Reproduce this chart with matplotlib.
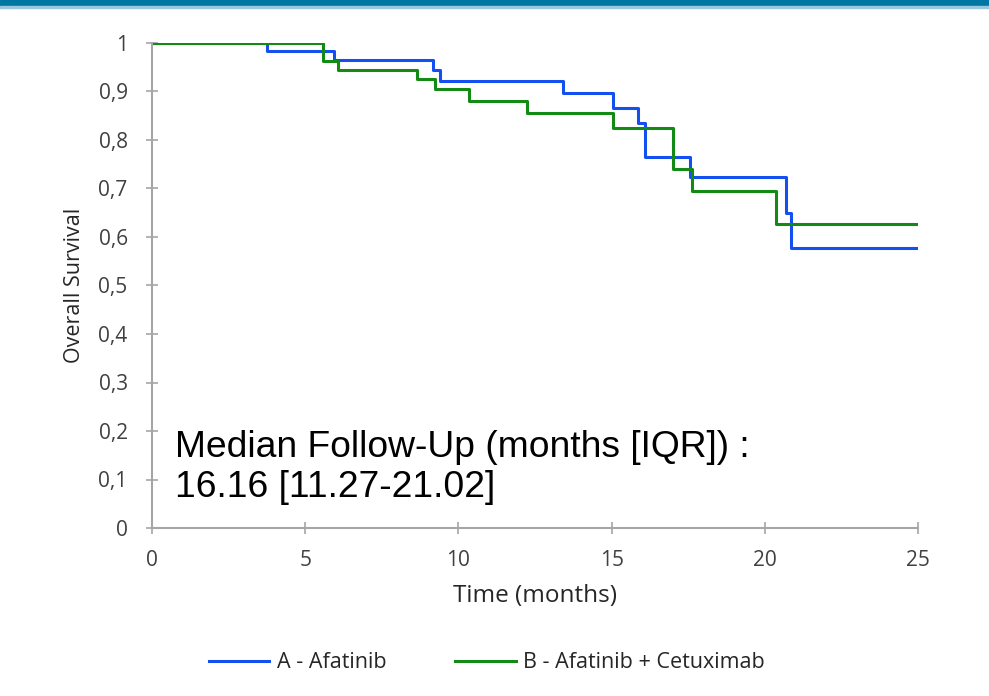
import numpy as np
import matplotlib.pyplot as plt
from matplotlib.patches import Rectangle
from matplotlib.ticker import FuncFormatter

# Kaplan-Meier steps (months, survival)
time_a = [0, 3.74, 5.95, 9.18, 9.40, 13.43, 15.06, 15.85, 16.09, 17.56, 20.69, 20.84, 25]
surv_a = [1.0, 0.983, 0.965, 0.944, 0.922, 0.896, 0.867, 0.836, 0.764, 0.723, 0.649, 0.577, 0.577]

time_b = [0, 5.59, 6.06, 8.64, 9.24, 10.35, 12.23, 15.06, 16.99, 17.63, 20.37, 25]
surv_b = [1.0, 0.963, 0.944, 0.925, 0.905, 0.881, 0.856, 0.824, 0.740, 0.695, 0.626, 0.626]

label_a = "A - Afatinib"
label_b = "B - Afatinib + Cetuximab"
note = "Median Follow-Up (months [IQR]) :\n16.16 [11.27-21.02]"

x_ticks = [0, 5, 10, 15, 20, 25]
y_ticks = np.arange(0, 11) / 10

plt.rcParams['font.family'] = ['Open Sans', 'DejaVu Sans']

fig = plt.figure(figsize=(9.89, 6.96), dpi=100)
fig.patches.append(Rectangle((0, 1 - 6 / 696), 1, 6 / 696, transform=fig.transFigure,
                             color='#0077A3', zorder=0))
fig.patches.append(Rectangle((0, 1 - 8 / 696), 1, 1.5 / 696, transform=fig.transFigure,
                             color='#9CC7DA', zorder=0))

ax = fig.add_axes([152 / 989, 1 - 528 / 696, (918 - 152) / 989, (528 - 43) / 696])

ax.step(time_a, surv_a, where='post', color='#1450F0', lw=2.2, label=label_a)
ax.step(time_b, surv_b, where='post', color='#138A13', lw=2.2, label=label_b)

ax.set_xlim(0, 25)
ax.set_ylim(0, 1)
ax.set_xticks(x_ticks)
ax.set_yticks(y_ticks)
ax.yaxis.set_major_formatter(FuncFormatter(lambda v, p: ('%g' % round(v, 1)).replace('.', ',')))

for s in ['top', 'right']:
    ax.spines[s].set_visible(False)
for s in ['left', 'bottom']:
    ax.spines[s].set_color('#A6A6A6')
    ax.spines[s].set_linewidth(1.5)
ax.tick_params(direction='inout', length=9, width=1.2, color='#A6A6A6',
               labelsize=15, labelcolor='#404040')
ax.tick_params(axis='x', pad=11)
ax.tick_params(axis='y', pad=13)

ax.set_xlabel('Time (months)', fontsize=17.5, color='#262626', labelpad=10)
ax.set_ylabel('Overall Survival', fontsize=15.5, color='#262626', labelpad=10)

ax.text(0.75, 0.064, note, fontsize=26.8, family=['Liberation Sans', 'DejaVu Sans'],
        color='black', linespacing=1.2, va='baseline', ha='left')

fig.legend(loc='center', bbox_to_anchor=(487 / 989, 1 - 663 / 696), ncol=2, frameon=False,
           fontsize=15.5, handlelength=2.8, columnspacing=3.2, handletextpad=0.35,
           labelcolor='#262626')

fig.savefig('out.png', dpi=100)
